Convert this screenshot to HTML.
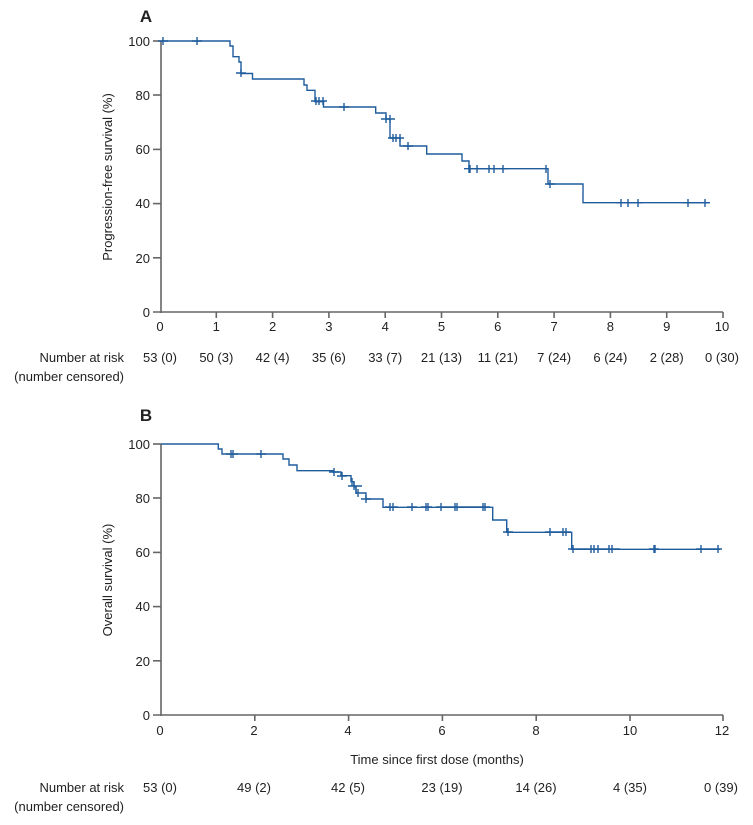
<!DOCTYPE html>
<html><head><meta charset="utf-8"><style>
html,body{margin:0;padding:0;background:#fff;}
svg{display:block;font-family:"Liberation Sans",sans-serif;}
text{fill:#222;font-size:13px;}
</style></head><body>
<svg width="753" height="825" viewBox="0 0 753 825" xmlns="http://www.w3.org/2000/svg">
<!-- Panel A -->
<text x="146" y="22" style="font-size:17px;font-weight:bold" text-anchor="middle">A</text>
<g stroke="#666" stroke-width="1.6" fill="none">
<line x1="161" y1="41" x2="161" y2="313"/>
<line x1="153" y1="312" x2="723" y2="312"/>
<line x1="153" y1="41" x2="161" y2="41"/><line x1="153" y1="95" x2="161" y2="95"/><line x1="153" y1="149.4" x2="161" y2="149.4"/><line x1="153" y1="203.6" x2="161" y2="203.6"/><line x1="153" y1="257.8" x2="161" y2="257.8"/>
<line x1="216.3" y1="312" x2="216.3" y2="318"/><line x1="272.6" y1="312" x2="272.6" y2="318"/><line x1="328.9" y1="312" x2="328.9" y2="318"/><line x1="385.2" y1="312" x2="385.2" y2="318"/><line x1="441.5" y1="312" x2="441.5" y2="318"/><line x1="497.8" y1="312" x2="497.8" y2="318"/><line x1="554.1" y1="312" x2="554.1" y2="318"/><line x1="610.4" y1="312" x2="610.4" y2="318"/><line x1="666.7" y1="312" x2="666.7" y2="318"/><line x1="723" y1="312" x2="723" y2="318"/>
</g>
<g text-anchor="end">
<text x="150" y="46">100</text><text x="150" y="100">80</text><text x="150" y="154">60</text><text x="150" y="208">40</text><text x="150" y="263">20</text><text x="150" y="317">0</text>
</g>
<g text-anchor="middle">
<text x="160" y="331">0</text><text x="216.3" y="331">1</text><text x="272.6" y="331">2</text><text x="328.9" y="331">3</text><text x="385.2" y="331">4</text><text x="441.5" y="331">5</text><text x="497.8" y="331">6</text><text x="554.1" y="331">7</text><text x="610.4" y="331">8</text><text x="666.7" y="331">9</text><text x="722" y="331">10</text>
<text x="160" y="362">53 (0)</text><text x="216.3" y="362">50 (3)</text><text x="272.6" y="362">42 (4)</text><text x="328.9" y="362">35 (6)</text><text x="385.2" y="362">33 (7)</text><text x="441.5" y="362">21 (13)</text><text x="497.8" y="362">11 (21)</text><text x="554.1" y="362">7 (24)</text><text x="610.4" y="362">6 (24)</text><text x="666.7" y="362">2 (28)</text><text x="722" y="362">0 (30)</text>
</g>
<g text-anchor="end"><text x="124" y="362">Number at risk</text><text x="124" y="381">(number censored)</text></g>
<text transform="translate(112,177) rotate(-90)" text-anchor="middle">Progression-free survival (%)</text>
<path fill="none" stroke="#1f5c9c" stroke-width="1.4" d="M161,41 H230 V46 H233 V56.7 H239 V62 H241 V73.5 H252.5 V79 H304 V85 H307 V90.3 H315 V101.7 H323.5 V107 H375.7 V113 H386 V119 H390 V138 H400 V146 H426.7 V154 H462 V161 H469 V168.7 H548 V184 H583 V202.7 H709"/>
<g stroke="#1f5c9c" stroke-width="1.4">
<path d="M163,37v8M197,37v8M241,69v8M316,97v8M319,97v8M323,97v8M344,103v8M386,115v8M390,115v8M393,134v8M396,134v8M400,134v8M408,142v8M469,165v8M470,165v8M477,165v8M489,165v8M494,165v8M503,165v8M546,165v8M550,180v8M621,199v8M628,199v8M638,199v8M688,199v8M705,199v8"/>
<path d="M158,41h10M192,41h10M236,73h10M311,101h16M339,107h10M381,119h14M388,138h16M403,146h10M464,168.7h44M545,184h10M616,202.7h27M683,202.7h27"/>
</g>

<!-- Panel B -->
<text x="146" y="421" style="font-size:17px;font-weight:bold" text-anchor="middle">B</text>
<g stroke="#666" stroke-width="1.6" fill="none">
<line x1="161" y1="444" x2="161" y2="716"/>
<line x1="153" y1="715" x2="723" y2="715"/>
<line x1="153" y1="444" x2="161" y2="444"/><line x1="153" y1="498" x2="161" y2="498"/><line x1="153" y1="552.4" x2="161" y2="552.4"/><line x1="153" y1="606.6" x2="161" y2="606.6"/><line x1="153" y1="660.8" x2="161" y2="660.8"/>
<line x1="254.8" y1="715" x2="254.8" y2="721"/><line x1="348.6" y1="715" x2="348.6" y2="721"/><line x1="442.4" y1="715" x2="442.4" y2="721"/><line x1="536.2" y1="715" x2="536.2" y2="721"/><line x1="630" y1="715" x2="630" y2="721"/><line x1="723" y1="715" x2="723" y2="721"/>
</g>
<g text-anchor="end">
<text x="150" y="449">100</text><text x="150" y="503">80</text><text x="150" y="557">60</text><text x="150" y="611">40</text><text x="150" y="666">20</text><text x="150" y="720">0</text>
</g>
<g text-anchor="middle">
<text x="160" y="735">0</text><text x="254" y="735">2</text><text x="348" y="735">4</text><text x="442" y="735">6</text><text x="536" y="735">8</text><text x="630" y="735">10</text><text x="722" y="735">12</text>
<text x="437" y="764">Time since first dose (months)</text>
<text x="160" y="792">53 (0)</text><text x="254" y="792">49 (2)</text><text x="348" y="792">42 (5)</text><text x="442" y="792">23 (19)</text><text x="536" y="792">14 (26)</text><text x="630" y="792">4 (35)</text><text x="721" y="792">0 (39)</text>
</g>
<g text-anchor="end"><text x="124" y="792">Number at risk</text><text x="124" y="811">(number censored)</text></g>
<text transform="translate(112,580) rotate(-90)" text-anchor="middle">Overall survival (%)</text>
<path fill="none" stroke="#1f5c9c" stroke-width="1.4" d="M161,444 H218.3 V449 H222 V454 H283 V459 H289 V465 H297 V470.7 H333 V472 H341 V475.7 H351 V481.7 H354 V486.7 H356 V493 H366 V499 H383 V507.3 H492.7 V520 H506.7 V532.3 H571.7 V549.3 H720"/>
<g stroke="#1f5c9c" stroke-width="1.4">
<path d="M231,450v8M233,450v8M261,450v8M334,468v8M342,472v8M352,478v8M354,482v8M356,486v8M358,489v8M366,495v8M390,503v8M393,503v8M412,503v8M426,503v8M428,503v8M441,503v8M455,503v8M457,503v8M483,503v8M485,503v8M508,528v8M550,528v8M563,528v8M566,528v8M573,545v8M591,545v8M594,545v8M598,545v8M609,545v8M612,545v8M654,545v8M655,545v8M701,545v8M718,545v8"/>
<path d="M226,454h12M256,454h10M329,472h10M337,476h10M348,486h14M361,499h10M385,507h13M407,507h10M421,507h11M436,507h54M503,532h10M545,532h26M568,549h52M649,549h10M696,549h26"/>
</g>
</svg>
</body></html>
